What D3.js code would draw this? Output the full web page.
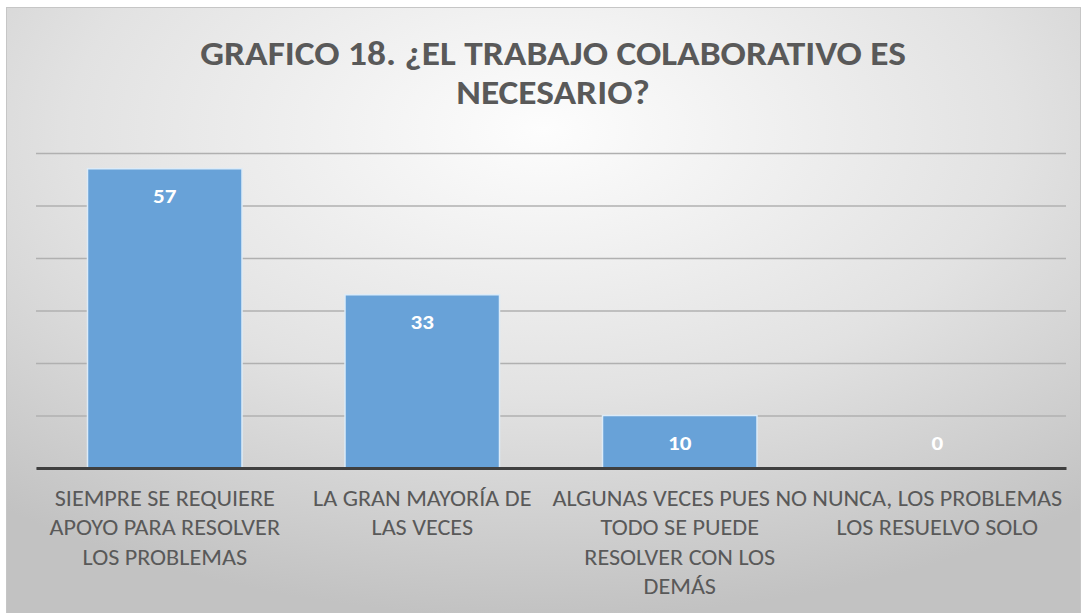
<!DOCTYPE html>
<html>
<head>
<meta charset="utf-8">
<script src="https://cdn.jsdelivr.net/npm/d3@7"></script>
<style>
  html, body { margin: 0; padding: 0; background: #ffffff; }
  svg { display: block; }
</style>
</head>
<body>
<svg id="chart" width="1087" height="613"></svg>
<script>
// Survey responses: "¿El trabajo colaborativo es necesario?"
const titleLines = ["GRAFICO 18. ¿EL TRABAJO COLABORATIVO ES", "NECESARIO?"];
const categories = [
  "SIEMPRE SE REQUIERE\nAPOYO PARA RESOLVER\nLOS PROBLEMAS",
  "LA GRAN MAYORÍA DE\nLAS VECES",
  "ALGUNAS VECES PUES NO\nTODO SE PUEDE\nRESOLVER CON LOS\nDEMÁS",
  "NUNCA, LOS PROBLEMAS\nLOS RESUELVO SOLO"
];
const values = [57, 33, 10, 0];
const gridTicks = [0, 10, 20, 30, 40, 50, 60];

const svg = d3.select("#chart");
const font = "Carlito, Calibri, 'Open Sans', sans-serif";
const stretch = "scale(1.1,1)"; // slightly widened lettering

// Background panel with a soft radial grey gradient
const defs = svg.append("defs");
const grad = defs.append("radialGradient")
  .attr("id", "bg")
  .attr("cx", "50%").attr("cy", "20%").attr("r", "80%")
  .attr("fx", "50%").attr("fy", "20%");
grad.append("stop").attr("offset", "0%").attr("stop-color", "#fdfdfd");
grad.append("stop").attr("offset", "55%").attr("stop-color", "#e2e2e2");
grad.append("stop").attr("offset", "100%").attr("stop-color", "#c2c2c2");

svg.append("rect")
  .attr("x", 6.5).attr("y", 7.5).attr("width", 1074).attr("height", 610)
  .attr("fill", "url(#bg)")
  .attr("stroke", "#c6c6c6").attr("stroke-width", 1);

// Plot area
const margin = { left: 36, right: 1066, top: 153, bottom: 468 };

const x = d3.scaleBand()
  .domain(categories)
  .range([margin.left, margin.right])
  .paddingInner(0.4)
  .paddingOuter(0.2);

const y = d3.scaleLinear()
  .domain([0, 60])
  .range([margin.bottom, margin.top]);

// Horizontal gridlines
const grid = svg.append("g")
  .attr("transform", `translate(${margin.left},0)`)
  .call(d3.axisLeft(y).tickValues(gridTicks).tickSize(-(margin.right - margin.left)).tickFormat(""));
grid.select(".domain").remove();
grid.selectAll(".tick line")
  .attr("stroke", "#b0b0b0")
  .attr("stroke-width", 1.6);

// Bars
svg.append("g").selectAll("rect")
  .data(values)
  .join("rect")
  .attr("x", (d, i) => x(categories[i]))
  .attr("y", d => y(d))
  .attr("width", x.bandwidth())
  .attr("height", d => y(0) - y(d))
  .attr("fill", "#68a2d8")
  .attr("stroke", "#dcebf8")
  .attr("stroke-width", d => d > 0 ? 1.5 : 0);

// Category axis along the baseline
const xAxis = svg.append("g")
  .attr("transform", `translate(0,${y(0)})`)
  .call(d3.axisBottom(x).tickSize(0).tickFormat(""));
xAxis.select(".domain")
  .attr("stroke", "#3f3f3f")
  .attr("stroke-width", 3);

xAxis.selectAll(".tick")
  .append("text")
  .attr("transform", stretch)
  .attr("fill", "#595959")
  .attr("font-family", font)
  .attr("font-size", 22)
  .attr("text-anchor", "middle")
  .each(function (d) {
    const t = d3.select(this);
    d.split("\n").forEach((line, k) => {
      t.append("tspan")
        .attr("x", 0)
        .attr("y", 38 + k * 29.3)
        .text(line);
    });
  });

// Value labels inside the top of each bar
svg.append("g").selectAll("g")
  .data(values)
  .join("g")
  .attr("transform", (d, i) =>
    `translate(${x(categories[i]) + x.bandwidth() / 2},${Math.min(y(d) + 27, y(0) - 25)}) ${stretch}`)
  .append("text")
  .attr("dy", "0.35em")
  .attr("text-anchor", "middle")
  .attr("fill", "#ffffff")
  .attr("font-family", font)
  .attr("font-weight", "bold")
  .attr("font-size", 21)
  .text(d => d);

// Title
svg.append("g")
  .attr("transform", `translate(553,0) ${stretch}`)
  .append("text")
  .attr("text-anchor", "middle")
  .attr("fill", "#595959")
  .attr("font-family", font)
  .attr("font-weight", "bold")
  .attr("font-size", 34)
  .selectAll("tspan")
  .data(titleLines)
  .join("tspan")
  .attr("x", 0)
  .attr("y", (d, i) => 65 + i * 39)
  .text(d => d);
</script>
</body>
</html>
